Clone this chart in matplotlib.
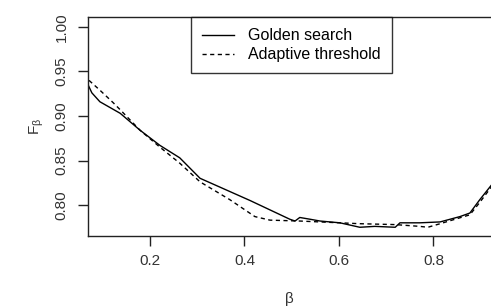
import matplotlib
matplotlib.use("Agg")
import matplotlib.pyplot as plt

# golden search curve (beta, F_beta)
golden_beta = [0.069, 0.077, 0.094, 0.137, 0.179, 0.221, 0.263, 0.306, 0.412, 0.496,
               0.507, 0.517, 0.539, 0.560, 0.602, 0.644, 0.676, 0.719, 0.729, 0.771,
               0.814, 0.856, 0.877, 0.898, 0.922]
golden_f = [0.935, 0.926, 0.916, 0.903, 0.884, 0.867, 0.853, 0.830, 0.805, 0.784,
            0.782, 0.786, 0.784, 0.782, 0.780, 0.775, 0.776, 0.775, 0.780, 0.780,
            0.781, 0.787, 0.791, 0.806, 0.822]

# adaptive threshold curve
adapt_beta = [0.071, 0.094, 0.122, 0.137, 0.179, 0.221, 0.263, 0.306, 0.369, 0.422,
              0.454, 0.517, 0.602, 0.644, 0.719, 0.771, 0.788, 0.814, 0.877, 0.898, 0.922]
adapt_f = [0.940, 0.929, 0.915, 0.907, 0.884, 0.865, 0.847, 0.826, 0.806, 0.787,
           0.783, 0.782, 0.780, 0.779, 0.778, 0.776, 0.775, 0.779, 0.789, 0.803, 0.820]

xticks = [0.2, 0.4, 0.6, 0.8]
yticks = [0.80, 0.85, 0.90, 0.95, 1.00]

plt.rcParams['font.family'] = ['Liberation Sans', 'DejaVu Sans']
plt.rcParams['mathtext.fontset'] = 'custom'
plt.rcParams['mathtext.rm'] = 'Liberation Sans'
fs = 11

fig = plt.figure(figsize=(4.91, 3.07), dpi=100)
ax = fig.add_axes([0.1792, 0.2313, 0.8208, 0.7133])

ax.plot(golden_beta, golden_f, color='black', lw=1.0, label='Golden search')
ax.plot(adapt_beta, adapt_f, color='black', lw=1.0, linestyle=(0, (3, 2.5)),
        label='Adaptive threshold')

ax.set_xlim(0.0688, 0.9217)
ax.set_ylim(0.7652, 1.0112)
ax.set_xticks(xticks)
ax.set_xticklabels(['%.1f' % v for v in xticks])
ax.set_yticks(yticks)
ax.set_yticklabels(['%.2f' % v for v in yticks], rotation=90, va='center')
ax.spines['right'].set_visible(False)
for s in ['left', 'bottom', 'top']:
    ax.spines[s].set_linewidth(1.0)
    ax.spines[s].set_color('#222222')
ax.tick_params(direction='out', length=7, width=1.0, colors='#222222', labelsize=fs,
               labelcolor='#333333')
ax.tick_params(axis='x', pad=6)
ax.tick_params(axis='y', pad=7)

ax.set_xlabel('β', fontsize=fs, labelpad=17, color='#333333')
ax.set_ylabel(r'F$_{\mathregular{β}}$', fontsize=fs, labelpad=6, color='#333333')

leg = ax.legend(loc='upper center', bbox_to_anchor=(0.505, 1.0), borderaxespad=0,
                fontsize=11.5, fancybox=False, frameon=True, edgecolor='black',
                handlelength=2.0, handletextpad=0.9, borderpad=0.7, labelspacing=0.25)
leg.get_frame().set_linewidth(1.0)

fig.savefig('out.png', dpi=100)
